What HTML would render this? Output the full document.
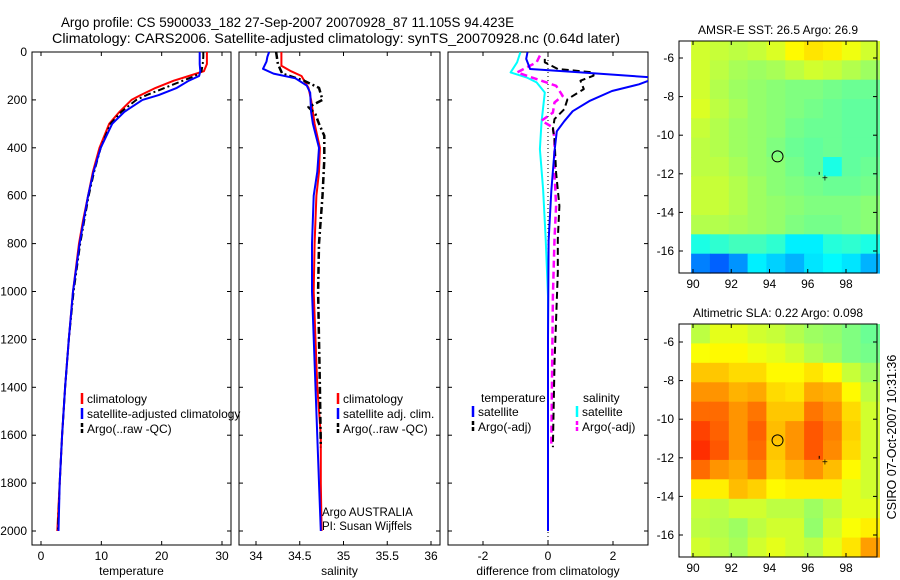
<!DOCTYPE html>
<html><head><meta charset="utf-8"><style>
body{margin:0;background:#fff;}
svg{display:block;font-family:"Liberation Sans",sans-serif;}
</style></head><body>
<svg id="fig" width="900" height="580" viewBox="0 0 900 580" xmlns="http://www.w3.org/2000/svg">
<rect width="900" height="580" fill="#fff"/>
<text x="61" y="27" font-size="13.5" textLength="453" lengthAdjust="spacingAndGlyphs">Argo profile: CS 5900033_182 27-Sep-2007 20070928_87 11.105S 94.423E</text>
<text x="52" y="43" font-size="14" textLength="568" lengthAdjust="spacingAndGlyphs">Climatology: CARS2006. Satellite-adjusted climatology: synTS_20070928.nc (0.64d later)</text>
<g id="plots"></g>
<text transform="translate(896,437) rotate(-90)" font-size="12.5" text-anchor="middle">CSIRO 07-Oct-2007 10:31:36</text>
</svg>
<script>
// ---- data ----
const tDepth=[0,20,50,80,100,120,150,180,200,250,300,400,500,600,700,800,1000,1200,1400,1600,1800,2000];
const tClim=[27.5,27.5,27.5,27,24.5,22,19,16.5,15,13,11.3,9.7,8.6,7.8,7,6.3,5.3,4.6,4.0,3.5,3.1,2.7];
const tSat=[26.3,26.3,26.3,26.4,26.2,24.5,22.5,19.5,16.8,13.8,11.8,9.9,8.7,7.8,7.1,6.4,5.3,4.6,4.0,3.5,3.1,2.9];
const tArgo=[26.9,26.9,26.8,26.6,25.5,23.5,20.5,17.5,15.8,13.3,11.5,9.9,8.8,7.9,7.2,6.5,5.4,4.6,4.0,3.5,3.1,2.8];
const sClimD=[0,57,80,100,150,200,300,400,500,600,800,1000,1400,1600,1800,2000];
const sClim=[34.29,34.29,34.40,34.52,34.60,34.63,34.67,34.73,34.72,34.69,34.67,34.66,34.70,34.74,34.74,34.75];
const sSatD=[0,20,40,70,90,110,140,170,250,300,400,500,600,800,1000,1400,1800,2000];
const sSat=[34.15,34.13,34.12,34.08,34.20,34.45,34.58,34.62,34.63,34.65,34.72,34.70,34.66,34.64,34.64,34.68,34.72,34.74];
const sArgoD=[0,50,90,120,150,200,230,260,300,350,450,600,800,1000,1400,1650];
const sArgo=[34.23,34.25,34.30,34.55,34.72,34.76,34.60,34.68,34.72,34.78,34.78,34.76,34.72,34.71,34.73,34.74];
const dTSatD=[1,29,71,85,106,120,135,163,205,247,289,331,414,581,790,1200,2000];
const dTSat=[-0.63,-0.67,-0.55,1.0,3.2,3.1,2.8,1.97,1.27,0.76,0.5,0.27,0.2,0.1,0.02,0.0,0.0];
const dTArgoD=[29,43,71,85,99,120,155,197,239,280,322,364,504,643,782,921,1300,1650];
const dTArgo=[-0.1,-0.1,0.3,1.4,1.4,1.0,1.1,0.6,0.5,0.2,0.15,0.2,0.25,0.35,0.3,0.3,0.2,0.15];
const dSSatD=[1,43,85,106,127,169,294,406,573,782,1019,1500,2000];
const dSSat=[-0.85,-0.95,-1.15,-0.66,-0.35,-0.1,-0.2,-0.25,-0.15,-0.07,0,0,0];
const dSArgoD=[15,43,85,113,141,183,211,253,287,315,364,504,643,782,1019,1650];
const dSArgo=[-0.25,-0.35,-0.95,-0.35,0.25,0.45,0.2,0.15,-0.2,0.15,0.2,0.2,0.25,0.2,0.15,0.1];
const depthTicks=[0,200,400,600,800,1000,1200,1400,1600,1800,2000];
const tTicks=[0,10,20,30];
const sTicks=[34,34.5,35,35.5,36];
const dTicks=[-2,0,2];
const latTicks=[-6,-8,-10,-12,-14,-16];
const lonTicks=[90,92,94,96,98];
const sstGrid=[
[.58,.57,.56,.57,.59,.63,.65,.64,.61,.58],
[.58,.56,.54,.53,.54,.56,.58,.57,.55,.53],
[.58,.55,.53,.52,.51,.50,.50,.49,.48,.48],
[.59,.56,.54,.52,.51,.50,.49,.48,.47,.47],
[.57,.55,.53,.52,.51,.49,.48,.48,.47,.47],
[.56,.55,.53,.52,.50,.48,.47,.48,.47,.47],
[.56,.56,.54,.52,.51,.49,.47,.40,.47,.48],
[.57,.57,.55,.53,.51,.50,.49,.48,.48,.49],
[.57,.57,.55,.53,.52,.51,.50,.50,.50,.51],
[.55,.55,.54,.53,.52,.50,.49,.49,.50,.51],
[.40,.42,.44,.44,.42,.36,.36,.41,.42,.40],
[.25,.22,.27,.36,.33,.30,.35,.37,.35,.30]];
const slaGrid=[
[.56,.60,.60,.58,.57,.55,.53,.52,.50,.48],
[.62,.63,.63,.61,.60,.58,.55,.53,.50,.49],
[.68,.68,.66,.66,.63,.63,.65,.63,.57,.53],
[.73,.73,.70,.71,.66,.65,.71,.70,.63,.56],
[.77,.77,.73,.76,.68,.68,.76,.73,.66,.58],
[.81,.78,.73,.78,.69,.73,.79,.75,.67,.58],
[.83,.79,.73,.77,.68,.73,.79,.74,.66,.58],
[.77,.73,.71,.75,.67,.70,.73,.69,.63,.58],
[.64,.64,.69,.67,.63,.64,.64,.64,.60,.58],
[.57,.56,.58,.58,.56,.56,.53,.56,.60,.60],
[.56,.55,.53,.56,.58,.58,.52,.58,.62,.64],
[.58,.56,.54,.58,.60,.58,.56,.60,.65,.72]];
const argoLon=94.42, argoLat=-11.1;

// ---- helpers ----
const NS='http://www.w3.org/2000/svg';
const root=document.getElementById('plots');
function mk(tag,attrs,parent){const e=document.createElementNS(NS,tag);for(const k in attrs)e.setAttribute(k,attrs[k]);(parent||root).appendChild(e);return e;}
function txt(s,x,y,anchor,size,parent){const e=mk('text',{x:x,y:y,'text-anchor':anchor||'start','font-size':size||12},parent);e.textContent=s;return e;}
const yD=d=>52+d*0.2395;
function lin(d0,d1,r0,r1){return v=>r0+(v-d0)*(r1-r0)/(d1-d0);}

function panel(name,x0,x1,xs,ticks,labelFmt,xtitle,yLabels){
  const g=mk('g',{});
  
  
  const fr=mk('rect',{x:x0,y:52,width:x1-x0,height:493,fill:'none',stroke:'#000','stroke-width':1},g);
  
  
  ticks.forEach(t=>{const x=xs(t);
    mk('line',{x1:x,x2:x,y1:52,y2:56,stroke:'#000'},g);
    mk('line',{x1:x,x2:x,y1:545,y2:541,stroke:'#000'},g);
    const l=txt(labelFmt(t),x,560,'middle',12,g);
    
    
  });
  depthTicks.forEach(d=>{const y=yD(d);
    mk('line',{x1:x0,x2:x0+4,y1:y,y2:y,stroke:'#000'},g);
    mk('line',{x1:x1,x2:x1-4,y1:y,y2:y,stroke:'#000'},g);
    if(yLabels){const l=txt(String(d),27,y+4,'end',12,g);
      
      }
  });
  const t=txt(xtitle,(x0+x1)/2,575,'middle',12,g);
  
  
  return g;
}
function series(g,name,depths,vals,xs,color,width,dash,clip){
  const pts=depths.map((d,i)=>xs(vals[i]).toFixed(1)+','+yD(d).toFixed(1)).join(' ');
  const a={points:pts,fill:'none',stroke:color,'stroke-width':width,'stroke-linejoin':'round'};
  if(dash)a['stroke-dasharray']=dash;
  if(clip)a['clip-path']=clip;
  const p=mk('polyline',a,g);
  
  
}
function legend(g,x,y,items,name){
  const lg=mk('g',{},g);
  
  
  items.forEach((it,i)=>{const yy=y+i*15;
    mk('line',{x1:x,x2:x,y1:yy-10,y2:yy+1,stroke:it[1],'stroke-width':2.5,'stroke-dasharray':it[2]||''},lg);
    const e=txt(it[0],x+5,yy,'start',12,lg);
    
    
  });
}

// ---- panel 1: temperature ----
const xT=lin(0,30,41,222);
const g1=panel('temperature-panel',32,231,xT,tTicks,String,'temperature',true);
series(g1,'temp-climatology',tDepth,tClim,xT,'#f00',2);
series(g1,'temp-argo',tDepth,tArgo,xT,'#000',2,'7,3,2,3');
series(g1,'temp-satellite',tDepth,tSat,xT,'#00f',2);
legend(g1,82,403,[['climatology','#f00'],['satellite-adjusted climatology','#00f'],['Argo(..raw -QC)','#000','4,2']],'temperature-legend');

// ---- panel 2: salinity ----
const xS=lin(34,36,256,431);
const g2=panel('salinity-panel',239,440,xS,sTicks,String,'salinity',false);
series(g2,'sal-climatology',sClimD,sClim,xS,'#f00',2);
series(g2,'sal-argo',sArgoD,sArgo,xS,'#000',2.5,'7,3,2,3');
series(g2,'sal-satellite',sSatD,sSat,xS,'#00f',2);
legend(g2,338,403,[['climatology','#f00'],['satellite adj. clim.','#00f'],['Argo(..raw -QC)','#000','4,2']],'salinity-legend');
txt('Argo AUSTRALIA',322,516,'start',11.5,g2);
txt('PI: Susan Wijffels',322,530,'start',11.5,g2);

// ---- panel 3: differences ----
const xDf=lin(0,2,548,613);
const g3=panel('difference-panel',448,648,xDf,dTicks,t=>String(t),'difference from climatology',false);
const cp=mk('clipPath',{id:'c3'},g3);mk('rect',{x:448,y:52,width:200,height:493},cp);
mk('line',{x1:xDf(0),x2:xDf(0),y1:52,y2:545,stroke:'#000','stroke-dasharray':'1,3'},g3);
series(g3,'sal-diff-satellite',dSSatD,dSSat,xDf,'#0ff',2,'','url(#c3)');
series(g3,'sal-diff-argo',dSArgoD,dSArgo,xDf,'#f0f',2.5,'7,4','url(#c3)');
series(g3,'temp-diff-argo',dTArgoD,dTArgo,xDf,'#000',2,'7,4','url(#c3)');
series(g3,'temp-diff-satellite',dTSatD,dTSat,xDf,'#00f',2,'','url(#c3)');
txt('temperature',481,402,'start',12,g3);
txt('salinity',583,402,'start',12,g3);
legend(g3,473,416,[['satellite','#00f'],['Argo(-adj)','#000','4,2']],'temp-diff-legend');
legend(g3,577,416,[['satellite','#0ff'],['Argo(-adj)','#f0f','4,2']],'sal-diff-legend');

// ---- maps ----
function jet(v){
  const r=Math.max(0,Math.min(1,1.5-Math.abs(4*v-3)));
  const g=Math.max(0,Math.min(1,1.5-Math.abs(4*v-2)));
  const b=Math.max(0,Math.min(1,1.5-Math.abs(4*v-1)));
  return `rgb(${Math.round(r*255)},${Math.round(g*255)},${Math.round(b*255)})`;
}
function map(name,title,top,bot,lat6y,lat16y,grid){
  const g=mk('g',{});
  
  
  const xL=lin(90,98,693,846), yL=lin(-6,-16,lat6y,lat16y);
  const lon0=89.9, lon1=99.75, nR=grid.length, nC=grid[0].length;
  const latTop=(top-lat6y)/(lat16y-lat6y)*(-10)-6, latBot=(bot-lat6y)/(lat16y-lat6y)*(-10)-6;
  grid.forEach((row,i)=>row.forEach((v,j)=>{
    const xa=xL(lon0+(lon1-lon0)*j/nC), xb=xL(lon0+(lon1-lon0)*(j+1)/nC);
    const ya=yL(latTop+(latBot-latTop)*i/nR), yb=yL(latTop+(latBot-latTop)*(i+1)/nR);
    const c=mk('rect',{x:xa.toFixed(1),y:ya.toFixed(1),width:(xb-xa+0.6).toFixed(1),height:(yb-ya+0.6).toFixed(1),fill:jet(v)},g);
    
    
  }));
  mk('rect',{x:679,y:top,width:198,height:bot-top,fill:'none',stroke:'#000'},g);
  lonTicks.forEach(l=>{const x=xL(l);
    mk('line',{x1:x,x2:x,y1:top,y2:top+4,stroke:'#000'},g);
    mk('line',{x1:x,x2:x,y1:bot,y2:bot-4,stroke:'#000'},g);
    txt(String(l),x,bot+15,'middle',12,g);});
  latTicks.forEach(l=>{const y=yL(l);
    mk('line',{x1:679,x2:683,y1:y,y2:y,stroke:'#000'},g);
    mk('line',{x1:877,x2:873,y1:y,y2:y,stroke:'#000'},g);
    txt(String(l),674,y+4,'end',12,g);});
  const t=txt(title,778,top-7,'middle',12,g);
  
  
  const m=mk('circle',{cx:xL(argoLon),cy:yL(argoLat),r:5.5,fill:'none',stroke:'#000'},g);
  
  
  mk('line',{x1:xL(96.6),x2:xL(96.6),y1:yL(-11.9),y2:yL(-12.05),stroke:'#000'},g);
  mk('text',{x:xL(96.9),y:yL(-12.2)+4,'font-size':10,'text-anchor':'middle'},g).textContent='+';
}
map('sst-map','AMSR-E SST: 26.5 Argo: 26.9',41,273,58,251,sstGrid);
map('sla-map','Altimetric SLA: 0.22 Argo: 0.098',324,557,342,535,slaGrid);
</script>
</body></html>
